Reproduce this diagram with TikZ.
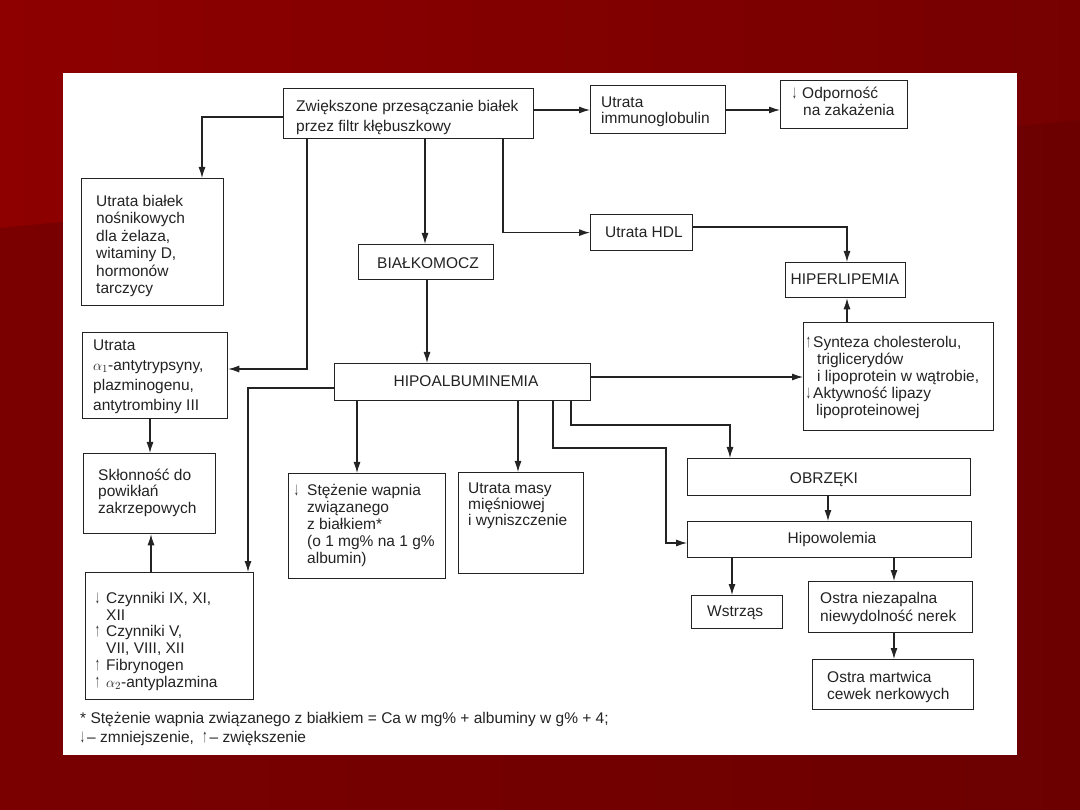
\documentclass[tikz,border=0pt]{standalone}
\usepackage{fontspec}
\usepackage{graphicx}
\setmainfont{Liberation Sans}
\usetikzlibrary{arrows.meta}
\definecolor{ink}{RGB}{35,35,35}
\definecolor{bgL}{RGB}{122,0,0}
\definecolor{bgR}{RGB}{108,0,0}
\definecolor{bgLt}{RGB}{142,0,0}
\definecolor{bgRt}{RGB}{118,0,0}
\newcommand\dnar[1][11pt]{\makebox[#1][l]{\scalebox{0.85}[1.7]{\fontsize{11}{11}\selectfont ↓}}}
\newcommand\upar[1][11pt]{\makebox[#1][l]{\scalebox{0.85}[1.7]{\fontsize{11}{11}\selectfont ↑}}}
\newcommand\ind[1][11pt]{\hspace*{#1}}
\newcommand\tb[5]{\node[txt,font=\fontsize{15.5}{#4}\selectfont] (#1) at (#2,#3-12) {\rule{0pt}{12pt}#5};}
\newcommand\bx[5]{\node[box,anchor=north west,minimum width=#4pt,minimum height=#5pt] (#1) at (#2,#3) {};}
\tikzset{
  box/.style={draw=ink, line width=1.3pt, inner sep=0pt, fill=white},
  arr/.style={draw=ink, line width=1.1pt, -{Latex[length=11pt,width=7pt]}},
  txt/.style={anchor=north west, inner sep=0pt, align=left, text=ink},
  ctr/.style={anchor=base, inner sep=0pt, text=ink, font=\fontsize{15.5}{17.5}\selectfont},
}
\begin{document}
\begin{tikzpicture}[x=1pt,y=-1pt]
\useasboundingbox (0,0) rectangle (1080,810);
% background
\shade[left color=bgL, right color=bgR] (0,0) rectangle (1080,810);
\shade[left color=bgLt, right color=bgRt] (0,0) -- (1080,0) -- (1080,120) -- (0,228) -- cycle;
\fill[white] (63,73) rectangle (1017,755);

% boxes
\bx{top}{283}{88}{250}{50}
\bx{utb}{81}{178}{142}{127}
\bx{uimm}{590}{85}{135}{48}
\bx{odp}{780}{80}{127}{48}
\bx{hdl}{590}{214}{102}{36}
\bx{hiper}{785}{262}{120}{35}
\bx{bialk}{358}{244}{135}{35}
\bx{ua1}{82}{332}{145}{86}
\bx{hipo}{334}{363}{256}{37}
\bx{synt}{803}{322}{190}{108}
\bx{skl}{83}{453}{132}{80}
\bx{stez}{288}{473}{157}{105}
\bx{umasy}{458}{472}{125}{101}
\bx{obrz}{687}{458}{283}{37}
\bx{hipow}{687}{521}{284}{36}
\bx{wstr}{691}{595}{91}{33}
\bx{onn}{808}{581}{164}{51}
\bx{om}{812}{659}{161}{50}
\bx{czyn}{85}{572}{168}{127}

% texts
\tb{ttop}{296}{111}{20}{Zwiększone przesączanie białek\\przez filtr kłębuszkowy}
\tb{tutb}{96}{206}{17.5}{Utrata białek\\nośnikowych\\dla żelaza,\\witaminy D,\\hormonów\\tarczycy}
\tb{tuimm}{601}{107}{16.5}{Utrata\\immunoglobulin}
\tb{todp}{792}{98}{17}{\dnar[10pt]Odporność\\\ind[11pt]na zakażenia}
\tb{thdl}{605}{237}{17.5}{Utrata HDL}
\node[ctr] (thiper) at (845,285) {HIPERLIPEMIA};
\node[ctr] (tbialk) at (428,269) {BIAŁKOMOCZ};
\tb{tua1}{93}{350}{20}{Utrata\\$\alpha_1$-antytrypsyny,\\plazminogenu,\\antytrombiny III}
\node[ctr] (thipo) at (466,387) {HIPOALBUMINEMIA};
\tb{tsynt}{806}{347}{17}{\upar[7pt]Synteza cholesterolu,\\\ind triglicerydów\\\ind i lipoprotein w wątrobie,\\\dnar[7pt]Aktywność lipazy\\\ind[10pt]lipoproteinowej}
\tb{tskl}{98}{480}{16.5}{Skłonność do\\powikłań\\zakrzepowych}
\tb{tstez}{294}{495}{17}{\dnar[13pt]Stężenie wapnia\\\ind[13pt]związanego\\\ind[13pt]z białkiem*\\\ind[13pt](o 1 mg\% na 1 g\%\\\ind[13pt]albumin)}
\tb{tumasy}{468}{493}{16}{Utrata masy\\mięśniowej\\i wyniszczenie}
\node[ctr] (tobrz) at (824,483) {OBRZĘKI};
\node[ctr] (thipow) at (832,543) {Hipowolemia};
\tb{twstr}{707}{616}{17}{Wstrząs}
\tb{tonn}{820}{603}{18}{Ostra niezapalna\\niewydolność nerek}
\tb{tom}{827}{682}{17}{Ostra martwica\\cewek nerkowych}
\tb{tczyn}{95}{603}{16.8}{\dnar Czynniki IX, XI,\\\ind XII\\\upar Czynniki V,\\\ind VII, VIII, XII\\\upar Fibrynogen\\\upar $\alpha_2$-antyplazmina}
\tb{tfn}{80}{723}{19}{* Stężenie wapnia związanego z białkiem = Ca w mg\% + albuminy w g\% + 4;\\\dnar[7pt]– zmniejszenie, \ \upar[7pt]– zwiększenie}

% connectors
\draw[arr] (top.west |- 0,117) -| (utb.north -| 202,0);
\draw[arr] (top.south -| 307,0) |- (ua1.east |- 0,369);
\draw[arr] (top.south -| 425,0) -- (bialk.north -| 425,0);
\draw[arr] (top.south -| 503,0) |- (hdl.west);
\draw[arr] (top.east |- 0,110) -- (uimm.west |- 0,110);
\draw[arr] (uimm.east |- 0,110) -- (odp.west |- 0,110);
\draw[arr] (hdl.east |- 0,227) -| (hiper.north -| 847,0);
\draw[arr] (synt.north -| 847,0) -- (hiper.south -| 847,0);
\draw[arr] (bialk.south -| 427,0) -- (hipo.north -| 427,0);
\draw[arr] (hipo.east |- 0,377) -- (synt.west |- 0,377);
\draw[arr] (hipo.south -| 357,0) -- (stez.north -| 357,0);
\draw[arr] (hipo.south -| 518,0) -- (umasy.north -| 518,0);
\draw[arr] (hipo.south -| 553,0) |- (666,448) |- (hipow.west |- 0,543);
\draw[arr] (hipo.south -| 571,0) |- (730,425) -- (obrz.north -| 730,0);
\draw[arr] (hipo.west |- 0,388) -| (czyn.north -| 248,0);
\draw[arr] (ua1.south -| 150,0) -- (skl.north -| 150,0);
\draw[arr] (czyn.north -| 151,0) -- (skl.south -| 151,0);
\draw[arr] (obrz.south -| 828,0) -- (hipow.north -| 828,0);
\draw[arr] (hipow.south -| 732,0) -- (wstr.north -| 732,0);
\draw[arr] (hipow.south -| 894,0) -- (onn.north -| 894,0);
\draw[arr] (onn.south -| 894,0) -- (om.north -| 894,0);
\end{tikzpicture}
\end{document}
